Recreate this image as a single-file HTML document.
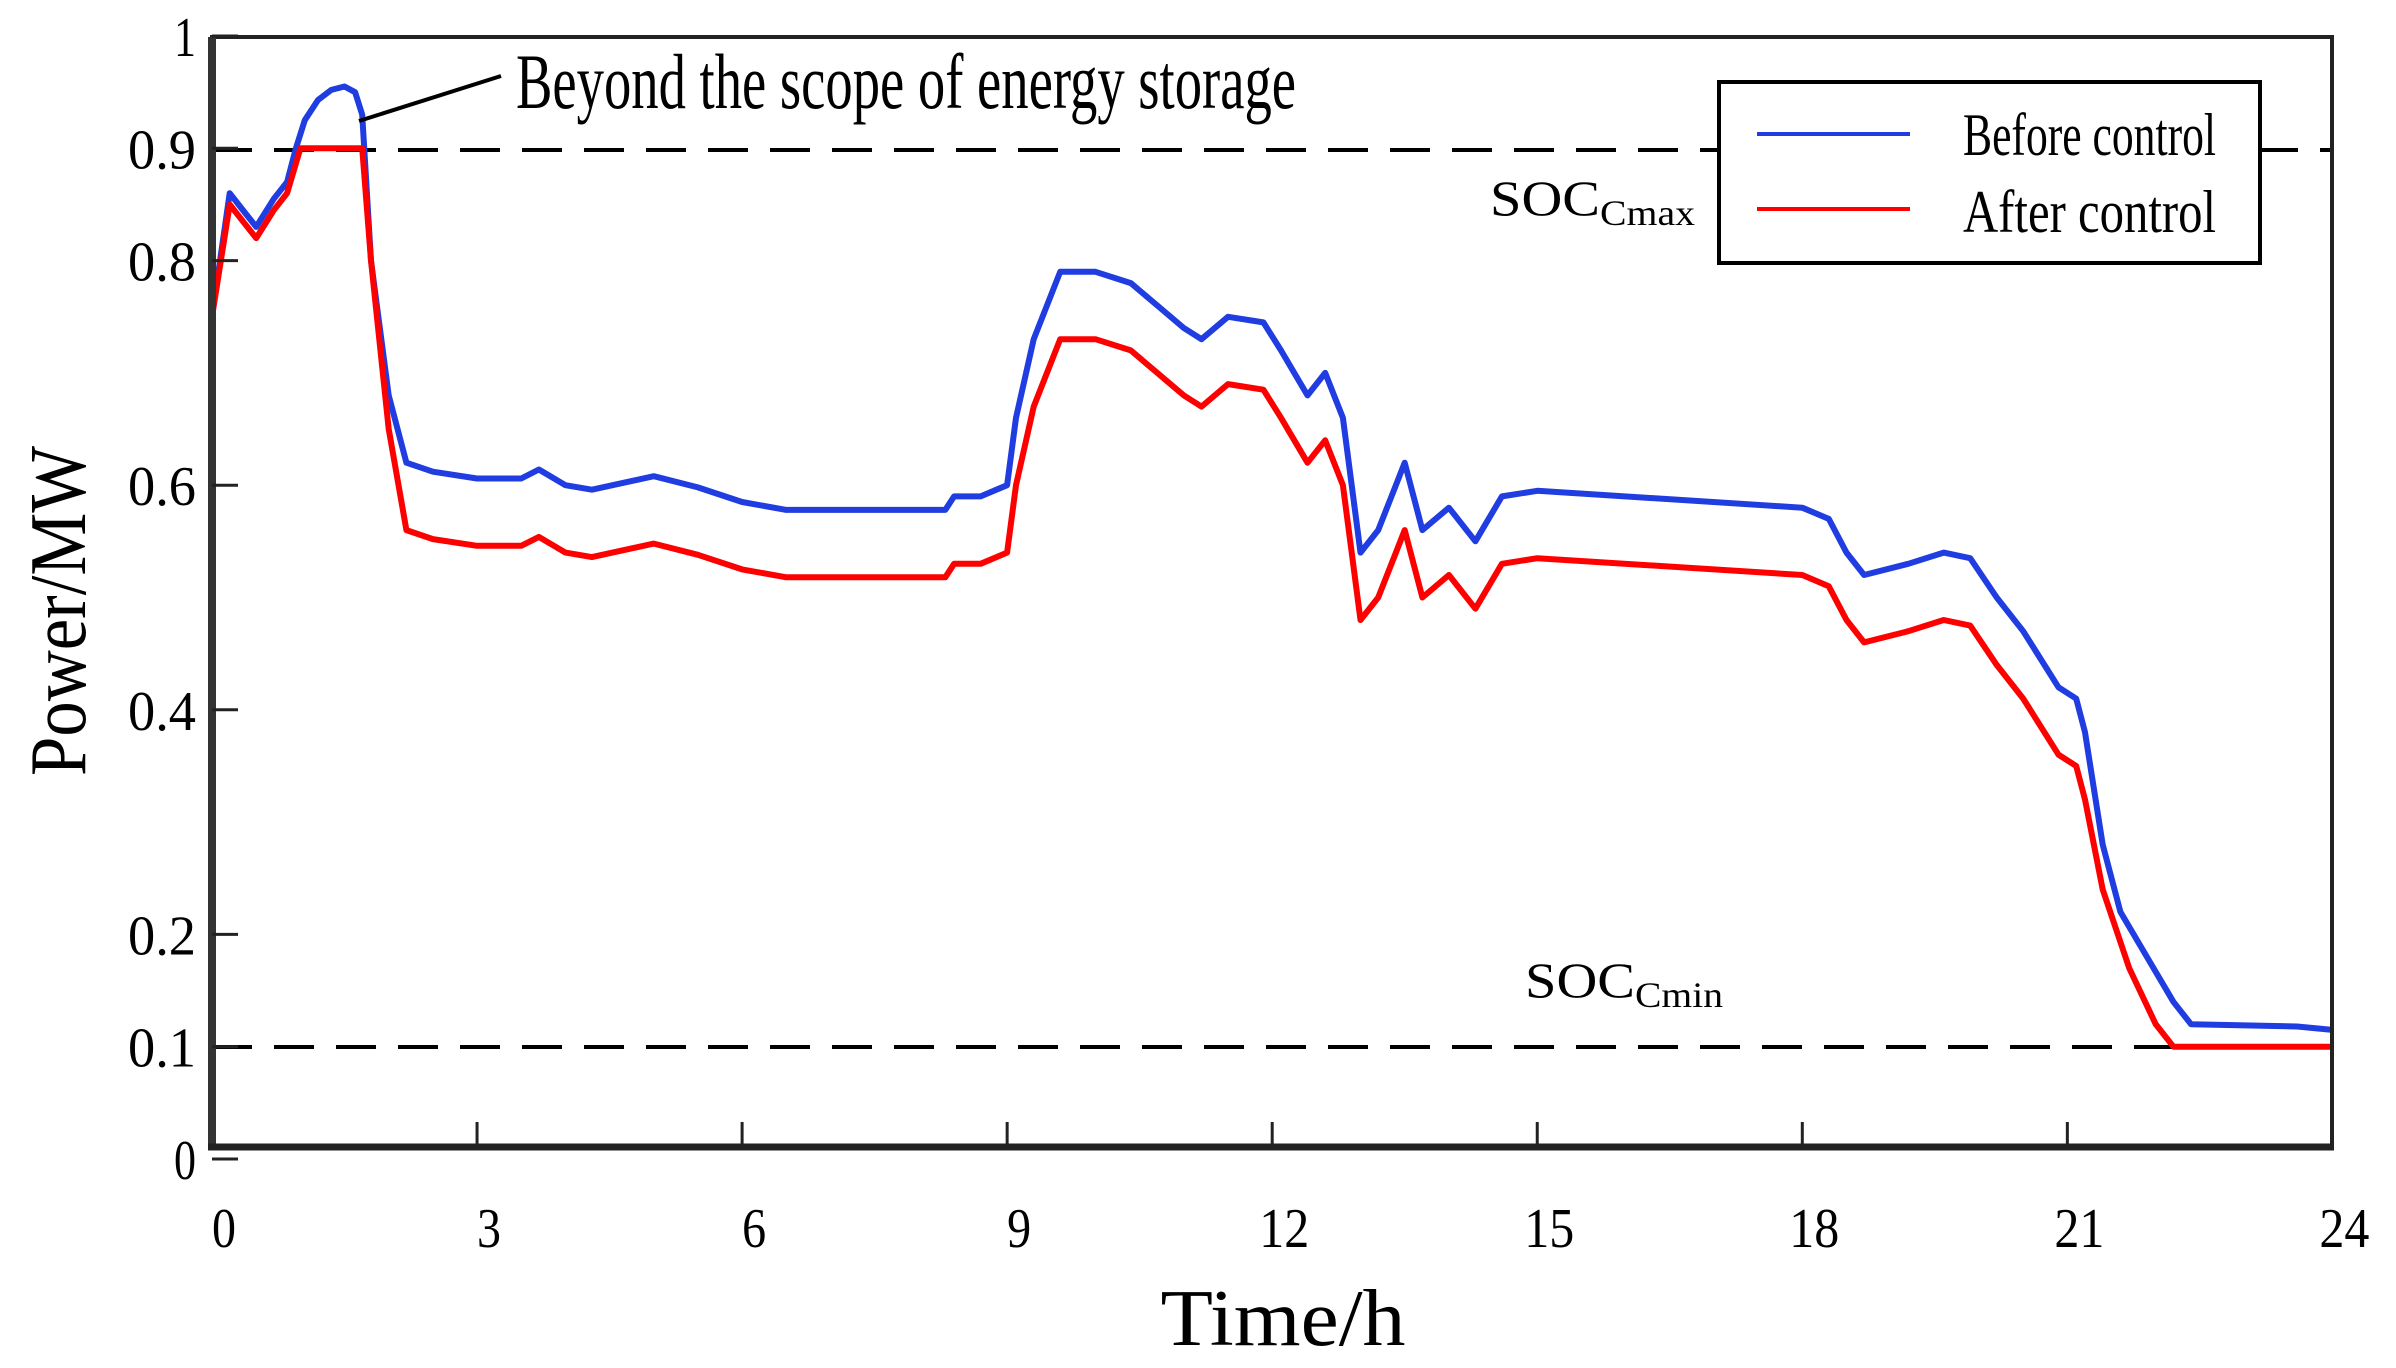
<!DOCTYPE html>
<html><head><meta charset="utf-8"><style>
html,body{margin:0;padding:0;background:#fff;width:2396px;height:1368px;overflow:hidden}
svg text{font-family:"Liberation Serif",serif;fill:#000}
</style></head><body>
<svg id="s" width="2396" height="1368" viewBox="0 0 2396 1368" xmlns="http://www.w3.org/2000/svg">
<rect width="2396" height="1368" fill="#fff"/>
<line x1="212" y1="150" x2="2332" y2="150" stroke="#000" stroke-width="4" stroke-dasharray="40,22"/>
<line x1="212" y1="1047" x2="2332" y2="1047" stroke="#000" stroke-width="4" stroke-dasharray="40,22"/>
<g id="series"></g>
<rect x="212" y="37" width="2120" height="1110" fill="none" stroke="#222" stroke-width="4"/>
<line x1="212" y1="37" x2="212" y2="1150" stroke="#333" stroke-width="8"/>
<line x1="208" y1="1147" x2="2334" y2="1147" stroke="#222" stroke-width="7"/>
<g stroke="#222" stroke-width="3" id="ticks"></g>
<g font-size="56" text-anchor="end" id="ylab"></g>
<g font-size="56" text-anchor="middle" id="xlab"></g>
<text x="1283" y="1345" font-size="80" text-anchor="middle" textLength="245" lengthAdjust="spacingAndGlyphs">Time/h</text>
<text transform="translate(85,611) rotate(-90)" font-size="80" text-anchor="middle" textLength="330" lengthAdjust="spacingAndGlyphs">Power/MW</text>
<line x1="359" y1="121" x2="501" y2="76" stroke="#000" stroke-width="4"/>
<text x="516" y="108" font-size="78" textLength="780" lengthAdjust="spacingAndGlyphs">Beyond the scope of energy storage</text>
<text x="1490" y="215" font-size="50" textLength="110" lengthAdjust="spacingAndGlyphs">SOC</text>
<text x="1600" y="225" font-size="36" textLength="95" lengthAdjust="spacingAndGlyphs">Cmax</text>
<text x="1525" y="997" font-size="50" textLength="110" lengthAdjust="spacingAndGlyphs">SOC</text>
<text x="1635" y="1007" font-size="36" textLength="88" lengthAdjust="spacingAndGlyphs">Cmin</text>
<rect x="1719" y="82" width="541" height="181" fill="#fff" stroke="#000" stroke-width="4"/>
<line x1="1757" y1="134" x2="1910" y2="134" stroke="#1f3de0" stroke-width="4"/>
<line x1="1757" y1="209" x2="1910" y2="209" stroke="#f00" stroke-width="4"/>
<text x="1963" y="155" font-size="60" textLength="253" lengthAdjust="spacingAndGlyphs">Before control</text>
<text x="1963" y="232" font-size="60" textLength="253" lengthAdjust="spacingAndGlyphs">After control</text>
</svg>
<script>
var NS="http://www.w3.org/2000/svg";
function X(t){return 212+t*88.35}
function Y(v){return 1159-1123*v}
var blue=[[0,.75],[.2,.86],[.35,.845],[.5,.83],[.7,.855],[.85,.87],[.95,.9],[1.05,.925],[1.2,.943],[1.35,.952],[1.5,.955],[1.62,.95],[1.7,.93],[1.8,.8],[2,.68],[2.2,.62],[2.5,.612],[3,.606],[3.5,.606],[3.7,.614],[4,.6],[4.3,.596],[5,.608],[5.5,.598],[6,.585],[6.5,.578],[8.3,.578],[8.4,.59],[8.7,.59],[9,.6],[9.1,.66],[9.3,.73],[9.6,.79],[10,.79],[10.4,.78],[10.7,.76],[11,.74],[11.2,.73],[11.5,.75],[11.9,.745],[12.1,.72],[12.4,.68],[12.6,.70],[12.8,.66],[13,.54],[13.2,.56],[13.4,.60],[13.5,.62],[13.7,.56],[14,.58],[14.3,.55],[14.6,.59],[15,.595],[18,.58],[18.3,.57],[18.5,.54],[18.7,.52],[19.2,.53],[19.6,.54],[19.9,.535],[20.2,.50],[20.5,.47],[20.9,.42],[21.1,.41],[21.2,.38],[21.4,.28],[21.6,.22],[21.9,.18],[22.2,.14],[22.4,.12],[23.6,.118],[24,.115]];
var red=[[0,.75],[.2,.85],[.35,.835],[.5,.82],[.7,.845],[.85,.86],[1,.9],[1.7,.9],[1.8,.8],[2,.65],[2.2,.56]];
blue.forEach(function(p){if(p[0]>2.2&&p[0]<21.3)red.push([p[0],p[1]-0.06])});
red.push([21.4,.24],[21.7,.17],[22,.12],[22.2,.1],[24,.1]);
function poly(d,c){var e=document.createElementNS(NS,"polyline");e.setAttribute("points",d.map(function(p){return X(p[0]).toFixed(1)+","+Y(p[1]).toFixed(1)}).join(" "));e.setAttribute("fill","none");e.setAttribute("stroke",c);e.setAttribute("stroke-width","6");e.setAttribute("stroke-linejoin","round");document.getElementById("series").appendChild(e)}
poly(blue,"#1f3de0");poly(red,"#f00");
var tk=document.getElementById("ticks"),yl=document.getElementById("ylab"),xl=document.getElementById("xlab");
function ln(a,b,c,d){var e=document.createElementNS(NS,"line");e.setAttribute("x1",a);e.setAttribute("y1",b);e.setAttribute("x2",c);e.setAttribute("y2",d);tk.appendChild(e)}
function tx(g,x,y,s,w){var e=document.createElementNS(NS,"text");e.setAttribute("x",x);e.setAttribute("y",y);e.setAttribute("textLength",w);e.setAttribute("lengthAdjust","spacingAndGlyphs");e.textContent=s;g.appendChild(e)}
[[1,"1"],[.9,"0.9"],[.8,"0.8"],[.6,"0.6"],[.4,"0.4"],[.2,"0.2"],[.1,"0.1"],[0,"0"]].forEach(function(p){var y=Y(p[0]);ln(212,y,238,y);tx(yl,196,y+20,p[1],p[1].length==1?22:68)});
for(var h=0;h<=24;h+=3){var x=X(h);if(h>0&&h<24)ln(x,1147,x,1122);var s=String(h);tx(xl,x+12,1247,s,s.length==1?24:50)}
</script>
</body></html>
